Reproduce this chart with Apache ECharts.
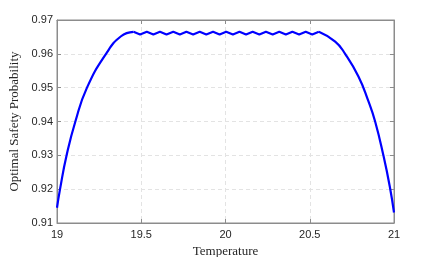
<!DOCTYPE html>
<html>
<head>
<meta charset="utf-8">
<script src="https://cdn.jsdelivr.net/npm/echarts@6/dist/echarts.min.js"></script>
<style>
  html, body { margin: 0; padding: 0; background: #ffffff; }
  #chart { width: 436px; height: 257px; }
</style>
</head>
<body>
<div id="chart"></div>
<script>
// temperature (x) and optimal safety probability (y)
var riseTemp = [19.000, 19.018, 19.057, 19.109, 19.178, 19.291, 19.380, 19.454];
var riseProb = [0.9145, 0.9200, 0.9300, 0.9400, 0.9500, 0.9600, 0.9652, 0.9665];

var flatTemp = [
  19.454, 19.493, 19.533, 19.572, 19.611, 19.650, 19.690, 19.729, 19.768, 19.808, 19.847, 19.886,
  19.926, 19.965, 20.004, 20.044, 20.083, 20.122, 20.161, 20.201, 20.240, 20.280, 20.319, 20.358,
  20.397, 20.437, 20.476, 20.515, 20.554
];
var flatProb = [
  0.9665, 0.9657, 0.9665, 0.9657, 0.9665, 0.9657, 0.9665, 0.9657, 0.9665, 0.9657, 0.9665, 0.9657,
  0.9665, 0.9657, 0.9665, 0.9657, 0.9665, 0.9657, 0.9665, 0.9657, 0.9665, 0.9657, 0.9665, 0.9657,
  0.9665, 0.9657, 0.9665, 0.9657, 0.9665
];

var fallTemp = [20.554, 20.651, 20.710, 20.789, 20.848, 20.888, 20.937, 20.975, 21.000];
var fallProb = [0.9665, 0.9636, 0.9600, 0.9533, 0.9460, 0.9400, 0.9300, 0.9208, 0.9131];

var xTicks = [19, 19.5, 20, 20.5, 21];
var yTicks = [0.91, 0.92, 0.93, 0.94, 0.95, 0.96, 0.97];

var chart = echarts.init(document.getElementById('chart'), null, { renderer: 'canvas' });

function pairs(xs, ys) {
  return xs.map(function (x, i) { return [x, ys[i]]; });
}

var labelFont = {
  fontFamily: 'Liberation Sans',
  fontSize: 11,
  color: '#262626'
};
var gridLine = {
  show: true,
  lineStyle: { color: '#e3e3e3', type: [4, 3], width: 1 }
};
var boxLine = { show: true, lineStyle: { color: '#8c8c8c', width: 1 } };
var tick = { show: true, inside: true, length: 4, lineStyle: { color: '#8c8c8c' } };
var blue = { color: '#0000ff', width: 2.2 };

var option = {
  backgroundColor: '#ffffff',
  animation: false,
  grid: {
    left: 57, right: 42, top: 20, bottom: 34,
    outerBoundsMode: 'none',
    show: true, borderColor: '#8c8c8c', borderWidth: 1
  },
  xAxis: [
    {
      type: 'value',
      min: xTicks[0], max: xTicks[xTicks.length - 1], interval: 0.5,
      name: 'Temperature',
      nameLocation: 'middle',
      nameGap: 20,
      nameTextStyle: { fontFamily: 'Liberation Serif', fontSize: 13, color: '#262626' },
      axisLine: boxLine,
      axisTick: tick,
      axisLabel: Object.assign({ margin: 6, formatter: function (v) { return String(v); } }, labelFont),
      splitLine: gridLine
    },
    {
      type: 'value', position: 'top',
      min: xTicks[0], max: xTicks[xTicks.length - 1], interval: 0.5,
      axisLine: boxLine,
      axisTick: tick,
      axisLabel: { show: false },
      splitLine: { show: false }
    }
  ],
  yAxis: [
    {
      type: 'value',
      min: yTicks[0], max: yTicks[yTicks.length - 1], interval: 0.01,
      name: 'Optimal Safety Probability',
      nameLocation: 'middle',
      nameGap: 32,
      nameTextStyle: { fontFamily: 'Liberation Serif', fontSize: 13, color: '#262626' },
      axisLine: boxLine,
      axisTick: tick,
      axisLabel: Object.assign({ margin: 4, formatter: function (v) { return v.toFixed(2); } }, labelFont),
      splitLine: gridLine
    },
    {
      type: 'value', position: 'right',
      min: yTicks[0], max: yTicks[yTicks.length - 1], interval: 0.01,
      axisLine: boxLine,
      axisTick: tick,
      axisLabel: { show: false },
      splitLine: { show: false }
    }
  ],
  series: [
    { type: 'line', data: pairs(riseTemp, riseProb), showSymbol: false, smooth: 0.5, lineStyle: blue },
    { type: 'line', data: pairs(flatTemp, flatProb), showSymbol: false, smooth: false, lineStyle: blue },
    { type: 'line', data: pairs(fallTemp, fallProb), showSymbol: false, smooth: 0.5, lineStyle: blue }
  ]
};
chart.setOption(option);
</script>
</body>
</html>
